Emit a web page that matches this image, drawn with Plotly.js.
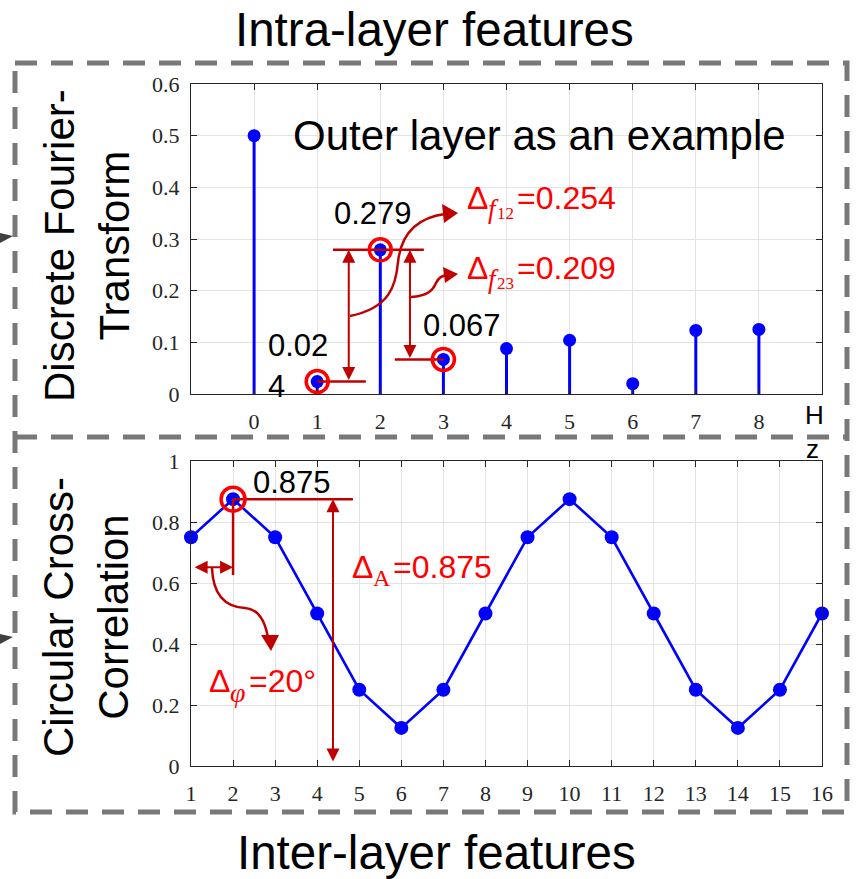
<!DOCTYPE html>
<html>
<head>
<meta charset="utf-8">
<script src="https://cdn.plot.ly/plotly-3.0.1.min.js"></script>
<style>html,body{margin:0;padding:0;background:#fff;}#chart{width:856px;height:879px;}</style>
</head>
<body>
<div id="chart"></div>
<script>
// ---- data ----
const dftFreq = [0, 1, 2, 3, 4, 5, 6, 7, 8];
const dftMag = [0.5, 0.024, 0.279, 0.067, 0.088, 0.104, 0.02, 0.123, 0.125];
const dftTickLabels = ['0', '1', '2', '3', '4', '5', '6', '7', '8'];
const lagIdx = [1, 2, 3, 4, 5, 6, 7, 8, 9, 10, 11, 12, 13, 14, 15, 16];
const ccorr = [0.75, 0.875, 0.75, 0.5, 0.25, 0.125, 0.25, 0.5, 0.75, 0.875, 0.75, 0.5, 0.25, 0.125, 0.25, 0.5];
const ccorrTickLabels = lagIdx.map(String);

// ---- geometry helpers (pixel -> paper) ----
const W = 856, H = 879, ML = 191, MR = 34, MT = 84, MB = 113;
const PW = W - ML - MR, PH = H - MT - MB;
const px = x => (x - ML) / PW;
const py = y => (H - MB - y) / PH;
function pt(x, y) { return px(x).toFixed(5) + ',' + py(y).toFixed(5); }

// ---- traces ----
const stemX = [], stemY = [];
dftFreq.forEach((f, i) => { stemX.push(f, f, null); stemY.push(0, dftMag[i], null); });

const BLUE = '#0000ff';
const DRED = '#c00000';
const RED = '#ff0000';

const traces = [
  { x: stemX, y: stemY, xaxis: 'x', yaxis: 'y', mode: 'lines', line: { color: BLUE, width: 3 }, hoverinfo: 'skip', cliponaxis: false },
  { x: dftFreq, y: dftMag, xaxis: 'x', yaxis: 'y', mode: 'markers', marker: { color: BLUE, size: 13 }, cliponaxis: false },
  { x: lagIdx, y: ccorr, xaxis: 'x2', yaxis: 'y2', mode: 'lines+markers', line: { color: BLUE, width: 2.6 }, marker: { color: BLUE, size: 14 }, cliponaxis: false }
];

// ---- axes ----
const axCommon = {
  showline: true, linecolor: '#262626', linewidth: 1, mirror: 'ticks',
  ticks: 'inside', ticklen: 6, tickcolor: '#262626', tickwidth: 1,
  showgrid: true, gridcolor: '#e3e3e3', gridwidth: 1, zeroline: false,
  tickfont: { family: 'Liberation Serif, Times New Roman, serif', size: 22, color: '#262626' }
};
const xTickExtra = { ticklabelstandoff: 8 };
const yTickExtra = { ticklabelstandoff: 6 };

const sansF = 'Liberation Sans, Arial, sans-serif';
const serifF = 'Liberation Serif, Times New Roman, serif';
function txt(text, x, y, size, color, opts) {
  return Object.assign({ text: text, x: px(x), y: py(y), xref: 'paper', yref: 'paper', showarrow: false,
    xanchor: 'left', yanchor: 'middle', borderpad: 0, font: { family: sansF, size: size, color: color } }, opts || {});
}
function serifTxt(text, x, y, size, color, italic) {
  return txt(italic ? '<i>' + text + '</i>' : text, x, y, size, color, { font: { family: serifF, size: size, color: color } });
}
function dblArrow(xref, yref, x0, y0, x1, y1) {
  return { xref: xref, yref: yref, axref: xref, ayref: yref, x: x1, y: y1, ax: x0, ay: y0, text: '',
    showarrow: true, arrowside: 'end+start', arrowhead: 2, startarrowhead: 2, arrowsize: 1.3, startarrowsize: 1.3,
    arrowwidth: 2, arrowcolor: DRED, standoff: 0, startstandoff: 0 };
}
// Δ with a composed subscript, built from separate text pieces laid side by side
function deltaLabel(x, yc, sub, subItalic, subSize, subW, small, value) {
  const out = [txt('Δ', x, yc, 32, RED)];
  let nx = x + 21;
  out.push(serifTxt(sub, nx, yc + 11, subSize, RED, subItalic));
  nx += subW + 1;
  if (small) { out.push(serifTxt(small, nx, yc + 15, 17, RED, false)); nx += 18; }
  out.push(txt('=' + value, nx + 2, yc, 32, RED));
  return out;
}

const annotations = [
  txt('Intra-layer features', 434, 29, 47.5, '#000', { xanchor: 'center' }),
  txt('Inter-layer features', 436, 853, 47.5, '#000', { xanchor: 'center' }),
  txt('Discrete Fourier-<br>Transform', 87, 246, 42, '#000', { xanchor: 'center', textangle: -90 }),
  txt('Circular Cross-<br>Correlation', 86, 617, 42, '#000', { xanchor: 'center', textangle: -90 }),
  txt('Outer layer as an example', 292, 135, 42, '#000'),
  txt('0.279', 333, 213, 31, '#000'),
  txt('0.067', 422, 325, 31, '#000'),
  txt('0.02', 267, 345, 31, '#000'),
  txt('4', 267, 386, 31, '#000'),
  txt('0.875', 252, 483, 31, '#000'),
  txt('H', 814, 415, 26, '#000', { xanchor: 'center' }),
  txt('z', 812, 449, 26, '#000', { xanchor: 'center' }),
  ...deltaLabel(466, 198, 'f', true, 27, 8, '12', '0.254'),
  ...deltaLabel(466, 268, 'f', true, 27, 8, '23', '0.209'),
  ...deltaLabel(351, 567, 'A', false, 24, 17, '', '0.875'),
  ...deltaLabel(208, 681, 'φ', true, 28, 16, '', '20°'),
  // double arrows (data coordinates)
  dblArrow('x', 'y', 1.5, dftMag[1], 1.5, dftMag[2]),
  dblArrow('x', 'y', 2.47, dftMag[3], 2.47, dftMag[2]),
  dblArrow('x2', 'y2', 4.375, 0.01, 4.375, ccorr[1]),
  dblArrow('x2', 'y2', 1.05, 0.652, 2, 0.652)
];

// ---- shapes ----
const GREY = '#787878';
const shapes = [
  // dashed frames
  { type: 'rect', xref: 'paper', yref: 'paper', x0: px(15), x1: px(847), y0: py(63), y1: py(812), line: { color: GREY, width: 5, dash: '22px,14px' }, fillcolor: 'rgba(0,0,0,0)' },
  { type: 'line', xref: 'paper', yref: 'paper', x0: px(15), x1: px(847), y0: py(437), y1: py(437), line: { color: GREY, width: 5, dash: '22px,14px' } },
  // small left arrowheads
  { type: 'path', xref: 'paper', yref: 'paper', path: 'M ' + pt(0, 233) + ' L ' + pt(13, 236) + ' L ' + pt(0, 243) + ' Z', fillcolor: '#404040', line: { width: 0 } },
  { type: 'path', xref: 'paper', yref: 'paper', path: 'M ' + pt(0, 634) + ' L ' + pt(13, 637) + ' L ' + pt(0, 644) + ' Z', fillcolor: '#404040', line: { width: 0 } },
  // horizontal reference lines (data coords)
  { type: 'line', xref: 'x', yref: 'y', x0: 1.25, x1: 2.69, y0: dftMag[2], y1: dftMag[2], line: { color: DRED, width: 2.5 } },
  { type: 'line', xref: 'x', yref: 'y', x0: dftFreq[1], x1: 1.77, y0: dftMag[1], y1: dftMag[1], line: { color: DRED, width: 2.5 } },
  { type: 'line', xref: 'x', yref: 'y', x0: 2.23, x1: dftFreq[3], y0: dftMag[3], y1: dftMag[3], line: { color: DRED, width: 2.5 } },
  { type: 'line', xref: 'x2', yref: 'y2', x0: lagIdx[1], x1: 4.85, y0: ccorr[1], y1: ccorr[1], line: { color: DRED, width: 2.5 } },
  { type: 'line', xref: 'x2', yref: 'y2', x0: lagIdx[1], x1: lagIdx[1], y0: ccorr[1], y1: 0.626, line: { color: DRED, width: 2.5 } },
  // curved arrows
  { type: 'path', xref: 'paper', yref: 'paper', path: 'M ' + pt(350, 316) + ' C ' + pt(390, 308) + ' ' + pt(396, 285) + ' ' + pt(398, 262) + ' C ' + pt(401, 235) + ' ' + pt(415, 218) + ' ' + pt(445, 214), line: { color: DRED, width: 2.5 } },
  { type: 'path', xref: 'paper', yref: 'paper', path: 'M ' + pt(458, 213) + ' L ' + pt(442, 204) + ' L ' + pt(444, 223) + ' Z', fillcolor: DRED, line: { width: 0 } },
  { type: 'path', xref: 'paper', yref: 'paper', path: 'M ' + pt(411, 297) + ' C ' + pt(428, 296) + ' ' + pt(433, 290) + ' ' + pt(436, 283) + ' C ' + pt(439, 277) + ' ' + pt(442, 276) + ' ' + pt(447, 275), line: { color: DRED, width: 2.5 } },
  { type: 'path', xref: 'paper', yref: 'paper', path: 'M ' + pt(458, 274) + ' L ' + pt(443, 267) + ' L ' + pt(445, 283) + ' Z', fillcolor: DRED, line: { width: 0 } },
  { type: 'path', xref: 'paper', yref: 'paper', path: 'M ' + pt(212, 568) + ' C ' + pt(213, 595) + ' ' + pt(225, 607) + ' ' + pt(245, 608) + ' C ' + pt(258, 609) + ' ' + pt(265, 620) + ' ' + pt(268, 638), line: { color: DRED, width: 2.5 } },
  { type: 'path', xref: 'paper', yref: 'paper', path: 'M ' + pt(271, 651) + ' L ' + pt(261, 635) + ' L ' + pt(279, 635) + ' Z', fillcolor: DRED, line: { width: 0 } },
  // red circles around highlighted points
  ...[1, 2, 3].map(i => ({ type: 'circle', xref: 'x', yref: 'y', xsizemode: 'pixel', ysizemode: 'pixel', xanchor: dftFreq[i], yanchor: dftMag[i], x0: -11, x1: 11, y0: -11, y1: 11, line: { color: RED, width: 3.5 } })),
  { type: 'circle', xref: 'x2', yref: 'y2', xsizemode: 'pixel', ysizemode: 'pixel', xanchor: lagIdx[1], yanchor: ccorr[1], x0: -12, x1: 12, y0: -12, y1: 12, line: { color: RED, width: 3.5 } }
];

const layout = {
  width: W, height: H, margin: { l: ML, r: MR, t: MT, b: MB, pad: 0 },
  paper_bgcolor: '#ffffff', plot_bgcolor: '#ffffff', showlegend: false,
  font: { family: sansF },
  xaxis: Object.assign({}, axCommon, xTickExtra, { domain: [0, 1], anchor: 'y', range: [-1, 9], tickmode: 'array', tickvals: dftFreq, ticktext: dftTickLabels }),
  yaxis: Object.assign({}, axCommon, yTickExtra, { domain: [(H - MB - 394) / PH, 1], anchor: 'x', range: [0, 0.6], dtick: 0.1, tick0: 0 }),
  xaxis2: Object.assign({}, axCommon, xTickExtra, { domain: [0, 1], anchor: 'y2', range: [1, 16], tickmode: 'array', tickvals: lagIdx, ticktext: ccorrTickLabels }),
  yaxis2: Object.assign({}, axCommon, yTickExtra, { domain: [0, (H - MB - 461) / PH], anchor: 'x2', range: [0, 1], dtick: 0.2, tick0: 0 }),
  annotations: annotations,
  shapes: shapes
};

Plotly.newPlot('chart', traces, layout, { staticPlot: true, displayModeBar: false });
</script>
</body>
</html>
